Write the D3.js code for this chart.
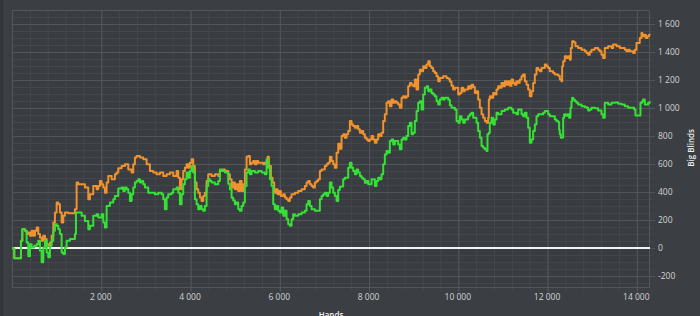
<html>

<head>
  <title>Big Blinds by Hands</title>
  <script src="https://d3js.org/d3.v7.min.js"></script>

  <style>
    body {
      margin: 0;
      background: #3b3e43;
    }

    svg text {
      font-family: "Open Sans", sans-serif;
    }

    .minor line {
      stroke: #44484d;
    }

    .major line {
      stroke: #53575c;
    }

    .minor .domain,
    .major .domain,
    .labels .domain {
      stroke: none;
    }

    .labels text {
      fill: #d2d4d6;
      font-size: 8.5px;
    }
  </style>

</head>

<body>
  <svg id="chart" width=700 height=316></svg>

  <script>
    // [hands, big blinds]
    const orangeSeries = [
      [0, 0], [29, -5], [51, -73], [178, -73], [201, 52], [231, 135], [290, 123], [328, 100],
      [365, 111], [402, 88], [440, 123], [477, 88], [514, 123], [552, 147], [589, 100], [626, 76],
      [664, 52], [701, 88], [738, 64], [776, 28], [813, 17], [850, 40], [888, 88], [925, 183],
      [962, 254], [1000, 325], [1037, 313], [1074, 254], [1112, 183], [1149, 230], [1186, 254],
      [1261, 249], [1336, 249], [1410, 278], [1448, 468], [1485, 456], [1560, 456], [1634, 432],
      [1709, 349], [1746, 384], [1821, 444], [1896, 420], [1933, 444], [1970, 479], [2008, 456],
      [2045, 432], [2082, 396], [2120, 468], [2157, 515], [2232, 491], [2306, 527], [2344, 539],
      [2381, 570], [2456, 586], [2530, 598], [2605, 562], [2680, 539], [2717, 598], [2754, 646],
      [2792, 657], [2866, 646], [2941, 634], [3016, 598], [3090, 551], [3165, 539], [3240, 527],
      [3314, 539], [3389, 515], [3464, 527], [3538, 539], [3613, 515], [3688, 551], [3725, 503],
      [3762, 420], [3800, 491], [3837, 551], [3874, 574], [3912, 598], [3949, 574], [3986, 610],
      [4024, 634], [4061, 586], [4098, 468], [4136, 420], [4173, 396], [4210, 361], [4248, 337],
      [4285, 372], [4322, 396], [4360, 479], [4397, 527], [4472, 515], [4546, 527], [4621, 515],
      [4658, 551], [4733, 562], [4770, 551], [4845, 527], [4882, 491], [4920, 432], [4957, 468],
      [4994, 420], [5032, 456], [5069, 408], [5106, 479], [5144, 408], [5181, 456], [5218, 562],
      [5256, 653], [5293, 657], [5330, 598], [5368, 610], [5405, 622], [5442, 598], [5480, 622],
      [5517, 610], [5592, 610], [5629, 598], [5666, 610], [5704, 622], [5726, 653], [5756, 586],
      [5801, 503], [5838, 468], [5875, 396], [5913, 420], [5950, 384], [5987, 408], [6025, 372],
      [6077, 384], [6114, 361], [6152, 349], [6189, 337], [6226, 361], [6264, 384], [6301, 384],
      [6338, 396], [6413, 408], [6488, 420], [6562, 444], [6600, 468], [6637, 479], [6674, 456],
      [6712, 444], [6749, 432], [6786, 468], [6824, 479], [6861, 491], [6898, 551], [6936, 562],
      [7010, 586], [7048, 598], [7085, 610], [7122, 653], [7160, 622], [7197, 598], [7234, 574],
      [7272, 681], [7309, 745], [7346, 710], [7384, 800], [7421, 812], [7458, 788], [7496, 812],
      [7533, 836], [7570, 907], [7608, 883], [7645, 872], [7682, 860], [7720, 872], [7757, 848],
      [7794, 824], [7832, 836], [7869, 812], [7906, 788], [7944, 776], [7981, 764], [8018, 776],
      [8056, 800], [8093, 776], [8130, 752], [8168, 776], [8205, 812], [8242, 800], [8280, 824],
      [8317, 907], [8354, 955], [8392, 1037], [8429, 1049], [8466, 1013], [8504, 1061], [8541, 1037],
      [8578, 1049], [8616, 1037], [8653, 1025], [8690, 1002], [8728, 1073], [8765, 1084], [8802, 1073],
      [8840, 1084], [8877, 1155], [8914, 1179], [8952, 1167], [8989, 1155], [9026, 1203], [9064, 1132],
      [9101, 1239], [9138, 1274], [9176, 1262], [9213, 1298], [9250, 1286], [9288, 1310], [9325, 1334],
      [9362, 1298], [9400, 1286], [9437, 1262], [9474, 1250], [9512, 1227], [9549, 1191], [9586, 1215],
      [9661, 1227], [9736, 1215], [9773, 1210], [9810, 1190], [9848, 1160], [9885, 1132], [9922, 1144],
      [9997, 1096], [10034, 1108], [10072, 1144], [10109, 1120], [10146, 1132], [10221, 1156], [10258, 1140],
      [10296, 1167], [10333, 1150], [10370, 1108], [10408, 1120], [10445, 1061], [10482, 1002], [10520, 955],
      [10557, 931], [10594, 907], [10632, 895], [10669, 931], [10684, 1061], [10706, 1084], [10744, 1073],
      [10781, 1108], [10818, 1096], [10856, 1132], [10893, 1156], [10930, 1144], [10968, 1179], [11005, 1156],
      [11042, 1191], [11080, 1167], [11117, 1191], [11154, 1160], [11192, 1203], [11229, 1179], [11266, 1167],
      [11304, 1191], [11341, 1180], [11378, 1203], [11416, 1227], [11453, 1239], [11490, 1191], [11528, 1167],
      [11565, 1132], [11602, 1084], [11640, 1120], [11677, 1179], [11714, 1239], [11752, 1286], [11789, 1274],
      [11826, 1262], [11864, 1286], [11938, 1310], [11976, 1298], [12013, 1286], [12050, 1262], [12125, 1250],
      [12162, 1239], [12237, 1230], [12274, 1203], [12312, 1191], [12327, 1298], [12349, 1334], [12386, 1369],
      [12424, 1357], [12461, 1369], [12498, 1345], [12521, 1429], [12551, 1476], [12588, 1470], [12625, 1441],
      [12685, 1429], [12760, 1417], [12834, 1405], [12872, 1393], [12909, 1381], [12946, 1400], [12984, 1417],
      [13058, 1429], [13133, 1417], [13170, 1405], [13208, 1381], [13245, 1357], [13282, 1429], [13357, 1441],
      [13432, 1429], [13469, 1453], [13544, 1441], [13618, 1429], [13693, 1429], [13730, 1417], [13768, 1405],
      [13805, 1417], [13842, 1405], [13880, 1405], [13917, 1393], [13954, 1417], [13992, 1464], [14029, 1464],
      [14066, 1500], [14104, 1536], [14126, 1512], [14163, 1524], [14201, 1500], [14238, 1512], [14275, 1524],
      [14290, 1520]
    ];

    const greenSeries = [
      [0, 0], [29, -5], [51, -73], [178, -73], [201, 52], [231, 135], [290, 123], [328, 40],
      [365, -59], [402, 28], [440, 5], [499, 17], [552, 28], [589, 52], [626, -19], [664, -102],
      [701, 5], [738, 52], [776, -31], [813, -66], [850, 17], [888, 52], [925, 123], [962, 171],
      [1000, 159], [1037, 135], [1074, 100], [1112, -31], [1149, -43], [1186, 5], [1224, 52],
      [1298, 64], [1373, 64], [1410, 100], [1433, 254], [1485, 254], [1560, 230], [1634, 194],
      [1709, 135], [1746, 159], [1821, 230], [1896, 242], [1933, 218], [2008, 242], [2045, 183],
      [2082, 147], [2120, 301], [2194, 325], [2269, 349], [2306, 372], [2381, 426], [2456, 432],
      [2493, 408], [2530, 432], [2568, 420], [2605, 396], [2642, 337], [2680, 384], [2717, 432],
      [2754, 468], [2792, 479], [2829, 491], [2866, 468], [2904, 479], [2941, 456], [2978, 432],
      [3053, 396], [3128, 396], [3202, 384], [3277, 396], [3352, 384], [3389, 349], [3426, 278],
      [3464, 361], [3501, 384], [3576, 396], [3613, 420], [3650, 420], [3688, 432], [3725, 396],
      [3762, 313], [3800, 384], [3837, 456], [3874, 491], [3912, 539], [3949, 503], [3986, 551],
      [4024, 586], [4061, 539], [4098, 349], [4136, 313], [4173, 278], [4210, 301], [4248, 278],
      [4285, 266], [4322, 301], [4360, 444], [4397, 491], [4434, 479], [4472, 468], [4546, 456],
      [4621, 479], [4658, 562], [4711, 551], [4770, 539], [4845, 460], [4882, 420], [4920, 360],
      [4957, 340], [4994, 313], [5032, 325], [5069, 278], [5106, 266], [5144, 301], [5181, 325],
      [5218, 444], [5256, 539], [5293, 562], [5330, 527], [5368, 551], [5442, 539], [5517, 551],
      [5592, 539], [5666, 527], [5704, 634], [5741, 574], [5778, 491], [5816, 444], [5853, 313],
      [5890, 278], [5928, 301], [5965, 266], [6002, 254], [6040, 290], [6077, 230], [6114, 266],
      [6152, 206], [6189, 171], [6226, 159], [6264, 206], [6301, 242], [6338, 230], [6413, 242],
      [6488, 254], [6562, 266], [6600, 313], [6637, 337], [6674, 301], [6712, 278], [6786, 266],
      [6861, 266], [6898, 349], [6936, 372], [6973, 384], [7010, 396], [7048, 372], [7085, 396],
      [7122, 468], [7160, 432], [7197, 396], [7234, 372], [7272, 337], [7309, 414], [7346, 438],
      [7384, 440], [7421, 491], [7458, 503], [7533, 574], [7570, 610], [7608, 574], [7645, 551],
      [7682, 527], [7720, 562], [7757, 539], [7794, 515], [7832, 503], [7869, 491], [7906, 467],
      [7944, 479], [7981, 456], [8056, 491], [8130, 444], [8168, 479], [8205, 503], [8242, 491],
      [8280, 527], [8317, 598], [8354, 669], [8392, 693], [8429, 681], [8466, 764], [8504, 776],
      [8541, 740], [8578, 764], [8653, 740], [8690, 705], [8728, 776], [8765, 788], [8802, 776],
      [8840, 800], [8877, 872], [8914, 895], [8952, 812], [8989, 824], [9026, 907], [9064, 978],
      [9101, 1037], [9138, 1049], [9176, 990], [9213, 1096], [9250, 1144], [9288, 1155], [9325, 1120],
      [9362, 1132], [9400, 1108], [9437, 1096], [9474, 1084], [9512, 1049], [9549, 1025], [9586, 1061],
      [9624, 1073], [9661, 1061], [9698, 1073], [9773, 1060], [9810, 1020], [9848, 1002], [9922, 990],
      [9960, 907], [9997, 895], [10034, 942], [10072, 919], [10109, 895], [10146, 919], [10221, 942],
      [10258, 955], [10296, 967], [10333, 931], [10408, 895], [10445, 836], [10482, 788], [10520, 729],
      [10557, 717], [10594, 705], [10632, 693], [10654, 812], [10684, 824], [10706, 895], [10744, 931],
      [10781, 883], [10818, 919], [10856, 967], [10893, 955], [10968, 978], [11042, 990], [11117, 1002],
      [11192, 990], [11229, 967], [11304, 955], [11341, 990], [11416, 955], [11453, 942], [11490, 967],
      [11528, 931], [11565, 860], [11602, 752], [11640, 776], [11677, 836], [11714, 883], [11752, 942],
      [11789, 955], [11901, 967], [11938, 978], [12013, 955], [12050, 942], [12162, 919], [12200, 907],
      [12237, 900], [12259, 843], [12274, 812], [12297, 788], [12327, 790], [12349, 931], [12371, 955],
      [12401, 945], [12446, 955], [12483, 931], [12513, 1002], [12536, 1049], [12551, 1073], [12573, 1061],
      [12610, 1049], [12648, 1037], [12685, 1025], [12760, 1013], [12834, 1008], [12872, 1002], [12909, 983],
      [12946, 990], [12984, 1002], [13058, 998], [13133, 983], [13208, 955], [13245, 931], [13282, 1037],
      [13320, 1037], [13357, 1025], [13432, 1037], [13506, 1040], [13581, 1030], [13656, 1025], [13730, 1013],
      [13805, 1002], [13880, 1002], [13939, 990], [13969, 947], [14029, 947], [14066, 947], [14081, 1037],
      [14119, 1049], [14141, 1061], [14178, 1025], [14216, 1025], [14253, 1037], [14290, 1049]
    ];

    const xTickValues = [2000, 4000, 6000, 8000, 10000, 12000, 14000];
    const yTickValues = [-200, 0, 200, 400, 600, 800, 1000, 1200, 1400, 1600];

    let svg = d3.select("svg#chart");
    let margin = { top: 10, left: 12, bottom: 28, right: 50 };
    let chartWidth = svg.attr('width') - margin.left - margin.right;
    let chartHeight = svg.attr('height') - margin.top - margin.bottom;

    // dark strip on the far left
    svg.append("rect")
      .attr("x", 0).attr("y", 0)
      .attr("width", 3).attr("height", svg.attr('height'))
      .attr("fill", "#323539");

    svg.append("rect")
      .attr("x", margin.left).attr("y", margin.top)
      .attr("width", chartWidth).attr("height", chartHeight)
      .attr("fill", "#393c40");

    const handsScale = d3.scaleLinear().domain([0, 14295]).range([0, chartWidth]);
    const bbScale = d3.scaleLinear().domain([-285, 1700]).range([chartHeight, 0]);

    const spaceFormat = d3.formatLocale({
      decimal: ".", thousands: " ", grouping: [3], currency: ["", ""], minus: "-"
    }).format(",");

    // minor gridlines
    let xMinor = d3.range(400, 14295, 400);
    let yMinor = d3.range(-250, 1700, 50);

    svg.append('g')
      .attr("class", "x minor")
      .attr('transform', `translate(${margin.left},${margin.top + chartHeight + 3})`)
      .call(d3.axisBottom(handsScale).tickValues(xMinor).tickSize(-chartHeight - 3).tickFormat(""));

    svg.append('g')
      .attr("class", "y minor")
      .attr('transform', `translate(${margin.left + chartWidth + 3},${margin.top})`)
      .call(d3.axisLeft(bbScale).tickValues(yMinor).tickSize(chartWidth + 3).tickFormat(""));

    // major gridlines
    svg.append('g')
      .attr("class", "x major")
      .attr('transform', `translate(${margin.left},${margin.top + chartHeight + 4})`)
      .call(d3.axisBottom(handsScale).tickValues(xTickValues).tickSize(-chartHeight - 4).tickFormat(""));

    svg.append('g')
      .attr("class", "y major")
      .attr('transform', `translate(${margin.left + chartWidth + 5},${margin.top})`)
      .call(d3.axisLeft(bbScale).tickValues(yTickValues).tickSize(chartWidth + 5).tickFormat(""));

    // plot border
    svg.append("rect")
      .attr("x", margin.left + 0.5).attr("y", margin.top + 0.5)
      .attr("width", chartWidth - 1).attr("height", chartHeight - 1)
      .attr("fill", "none")
      .attr("stroke", "#53575c");

    // tick labels
    svg.append('g')
      .attr("class", "labels")
      .attr('transform', `translate(${margin.left - 1},${margin.top + chartHeight})`)
      .call(d3.axisBottom(handsScale).tickValues(xTickValues).tickSize(0).tickPadding(6).tickFormat(spaceFormat));

    svg.append('g')
      .attr("class", "labels")
      .attr('transform', `translate(${margin.left + chartWidth},${margin.top})`)
      .call(d3.axisRight(bbScale).tickValues(yTickValues).tickSize(0).tickPadding(8).tickFormat(spaceFormat));

    let chartArea = svg.append('g')
      .attr('transform', `translate(${margin.left}, ${margin.top})`);

    // zero line
    chartArea.append("line")
      .attr("x1", 0).attr("x2", chartWidth)
      .attr("y1", bbScale(0)).attr("y2", bbScale(0))
      .attr("stroke", "#f4f4f4")
      .attr("stroke-width", 2);

    const line = d3.line()
      .curve(d3.curveStepAfter)
      .x(d => handsScale(d[0]))
      .y(d => bbScale(d[1]));

    chartArea.append("path")
      .datum(orangeSeries)
      .attr("d", line)
      .attr("fill", "none")
      .attr("stroke", "#f0922e")
      .attr("stroke-width", 2)
      .attr("stroke-linejoin", "round");

    chartArea.append("path")
      .datum(greenSeries)
      .attr("d", line)
      .attr("fill", "none")
      .attr("stroke", "#35e135")
      .attr("stroke-width", 2)
      .attr("stroke-linejoin", "round");

    // axis titles
    svg.append("text")
      .attr("text-anchor", "middle")
      .attr("x", margin.left + chartWidth / 2)
      .attr("y", 318)
      .attr("fill", "#eeeeee")
      .style("font-size", "8px")
      .style("font-weight", "600")
      .text("Hands");

    svg.append("text")
      .attr("text-anchor", "middle")
      .attr("dominant-baseline", "central")
      .attr("transform", "translate(690,148) rotate(-90)")
      .attr("fill", "#eeeeee")
      .style("font-size", "8px")
      .style("font-weight", "600")
      .text("Big Blinds");
  </script>
</body>

</html>
